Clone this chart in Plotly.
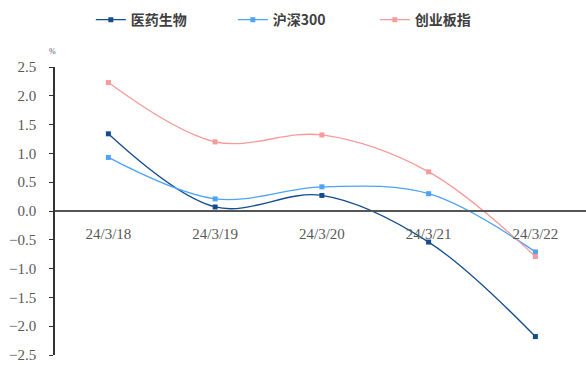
import plotly.graph_objects as go

dates = ["24/3/18", "24/3/19", "24/3/20", "24/3/21", "24/3/22"]
pharma = [1.34, 0.07, 0.27, -0.54, -2.18]
hs300 = [0.93, 0.21, 0.42, 0.30, -0.71]
chinext = [2.23, 1.20, 1.32, 0.68, -0.79]
y_ticks = [2.5, 2.0, 1.5, 1.0, 0.5, 0.0, -0.5, -1.0, -1.5, -2.0, -2.5]

series = [
    ("医药生物", pharma, "#154C8E"),
    ("沪深300", hs300, "#4DA3F5"),
    ("创业板指", chinext, "#F79A9A"),
]

fig = go.Figure()
for name, vals, color in series:
    fig.add_trace(go.Scatter(
        x=dates, y=vals, name=name, mode="lines+markers",
        line=dict(color=color, width=1.3, shape="spline", smoothing=1.0),
        marker=dict(symbol="square", size=5, color=color),
    ))

serif = "Liberation Serif"
fig.update_layout(
    width=586, height=365,
    margin=dict(l=55, r=0, t=67, b=10),
    paper_bgcolor="white", plot_bgcolor="white",
    showlegend=True,
    legend=dict(
        orientation="h", x=0.155, xanchor="left", y=0.945, yanchor="middle",
        xref="container", yref="container",
        font=dict(family="Noto Sans CJK SC", size=14, color="#404040", weight="bold"),
        itemwidth=30, entrywidth=97, entrywidthmode="pixels",
    ),
    xaxis=dict(
        type="category", range=[-0.5, 4.474],
        anchor="free", position=0.5,
        showline=True, linecolor="#555555", linewidth=1.5,
        showgrid=False, zeroline=False, ticks="",
        ticklabelstandoff=9,
        tickfont=dict(family=serif, size=15, color="#595959"),
    ),
    yaxis=dict(
        range=[-2.5, 2.5], tickvals=y_ticks, tickformat=".1f",
        showline=True, linecolor="#333333", linewidth=1.5,
        ticks="outside", ticklen=4, tickcolor="#333333",
        showgrid=False, zeroline=False, ticklabelstandoff=10,
        tickfont=dict(family=serif, size=15, color="#595959"),
    ),
    annotations=[dict(
        text="%", xref="paper", yref="paper", x=-0.005, y=1.03,
        xanchor="center", yanchor="bottom", showarrow=False,
        font=dict(family=serif, size=8, color="#595959"),
    )],
)
fig.write_html("out.html")
